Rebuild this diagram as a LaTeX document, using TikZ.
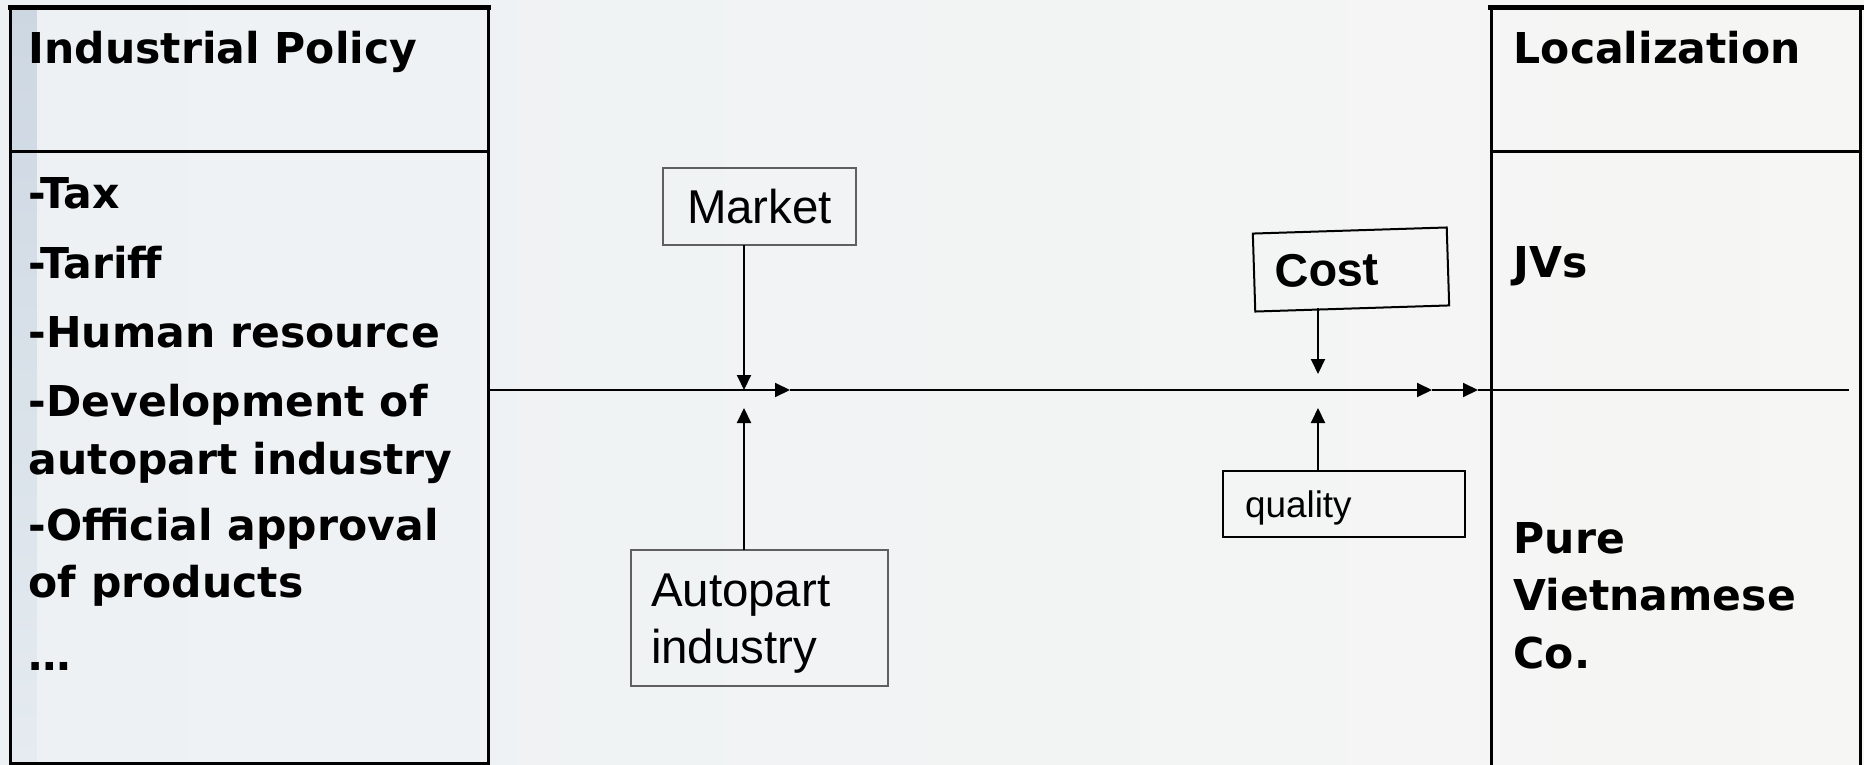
\documentclass[tikz,border=0pt]{standalone}
\usepackage{xcolor}
\usepackage{fontspec}
\setmainfont{Liberation Sans}
\newfontfamily\tahoma{DejaVu Sans}
\usepackage{tikz}
\usetikzlibrary{positioning, arrows.meta}

\definecolor{bgleft}{RGB}{237,241,244}
\definecolor{bgright}{RGB}{246,246,244}
\definecolor{stripetop}{RGB}{205,215,226}
\definecolor{stripebot}{RGB}{229,235,240}
\definecolor{boxgray}{RGB}{95,95,95}

\begin{document}
\begin{tikzpicture}[
    frame/.style={draw, line width=0.03cm, anchor=north west, inner sep=0pt, outer sep=0pt},
    head/.style={font=\tahoma\bfseries\fontsize{12.1pt}{16.3pt}\selectfont, anchor=base west, inner sep=0pt, align=left},
    mbox/.style={draw=boxgray, line width=0.015cm, font=\fontsize{13.5pt}{16.1pt}\selectfont, inner sep=0pt, outer sep=0pt},
    cbox/.style={draw, line width=0.02cm, inner sep=0pt, outer sep=0pt},
    flow/.style={-{Triangle[length=0.15cm, width=0.14cm]}, line width=0.02cm}
]
    % page and left stripe
    \fill[left color=bgleft, right color=bgright] (0,0) rectangle (18.64,-7.65);
    \shade[top color=stripetop, bottom color=stripebot] (0.11,-0.09) rectangle (0.37,-7.61);
    \useasboundingbox (0,0) rectangle (18.64,-7.65);
    \coordinate (hdl) at (0,-1.51);

    % two columns
    \node[frame, minimum width=4.78cm, minimum height=7.56cm] (policy) at (0.10,-0.07) {};
    \node[frame, minimum width=3.69cm, minimum height=7.70cm] (local) at (14.91,-0.07) {};
    \draw[line width=0.05cm] ([xshift=-0.02cm]policy.north west) -- ([xshift=0.03cm]policy.north east);
    \draw[line width=0.05cm] ([xshift=-0.03cm]local.north west) -- ([xshift=0.04cm]local.north east);
    \draw[line width=0.03cm] (policy.west |- hdl) -- (policy.east |- hdl);
    \draw[line width=0.03cm] (local.west |- hdl) -- (local.east |- hdl);

    % base of a two-line node sits on its last line
    \node[head] (polhead) at (0.28,-0.63) {Industrial Policy};
    \node[head] (tax) at (0.28,-2.08) {-Tax};
    \node[head] (tariff) at (0.28,-2.78) {-Tariff};
    \node[head] (human) at (0.28,-3.47) {-Human resource};
    \node[head] (devel) at (0.28,-4.74) {-Development of\\autopart industry};
    \node[head] (approval) at (0.28,-5.975) {-Official approval\\of products};
    \node[head] (etc) at (0.28,-6.70) {…};

    \node[head] (lochead) at (15.13,-0.63) {Localization};
    \node[head] (jv) at (15.13,-2.77) {JVs};
    \node[head] (pure) at (15.13,-6.68) {Pure\\Vietnamese\\Co.};

    % factors
    \node[mbox, minimum width=1.93cm, minimum height=0.77cm] (market) at (7.595,-2.065) {Market};
    \node[mbox, minimum width=2.57cm, minimum height=1.36cm, inner xsep=0.20cm, text width=2.17cm, align=left] (autopart) at (7.595,-6.18) {\rule{0pt}{0.44cm}Autopart\\industry};
    \node[cbox, rotate=1.8, minimum width=1.94cm, minimum height=0.78cm, inner xsep=0.21cm, text width=1.52cm, align=left, font=\bfseries\fontsize{13.3pt}{15pt}\selectfont] (cost) at (13.51,-2.695) {Cost};
    \node[cbox, minimum width=2.42cm, minimum height=0.66cm, inner xsep=0.22cm, text width=1.98cm, text depth=0pt, align=left, font=\fontsize{10.5pt}{12pt}\selectfont] (quality) at (13.44,-5.04) {quality};

    % main line
    \coordinate (jm) at (7.44,-3.90);
    \coordinate (jmb) at (7.44,-4.08);
    \coordinate (jc) at (13.18,-3.74);
    \coordinate (jcb) at (13.18,-4.08);
    \coordinate (t1) at (7.90,-3.90);
    \coordinate (t2) at (14.32,-3.90);
    \coordinate (t3) at (14.78,-3.90);
    \coordinate (lineend) at (18.49,-3.90);

    \draw[flow] (policy.east |- jm) -- (t1);
    \draw[flow] (t1) -- (t2);
    \draw[flow] (t2) -- (t3);
    \draw[line width=0.02cm] (t3) -- (lineend);

    \draw[flow] (market.south -| jm) -- (jm);
    \draw[flow] (autopart.north -| jm) -- (jmb);
    \draw[flow] (cost.south -| jc) -- (jc);
    \draw[flow] (quality.north -| jc) -- (jcb);
\end{tikzpicture}
\end{document}
